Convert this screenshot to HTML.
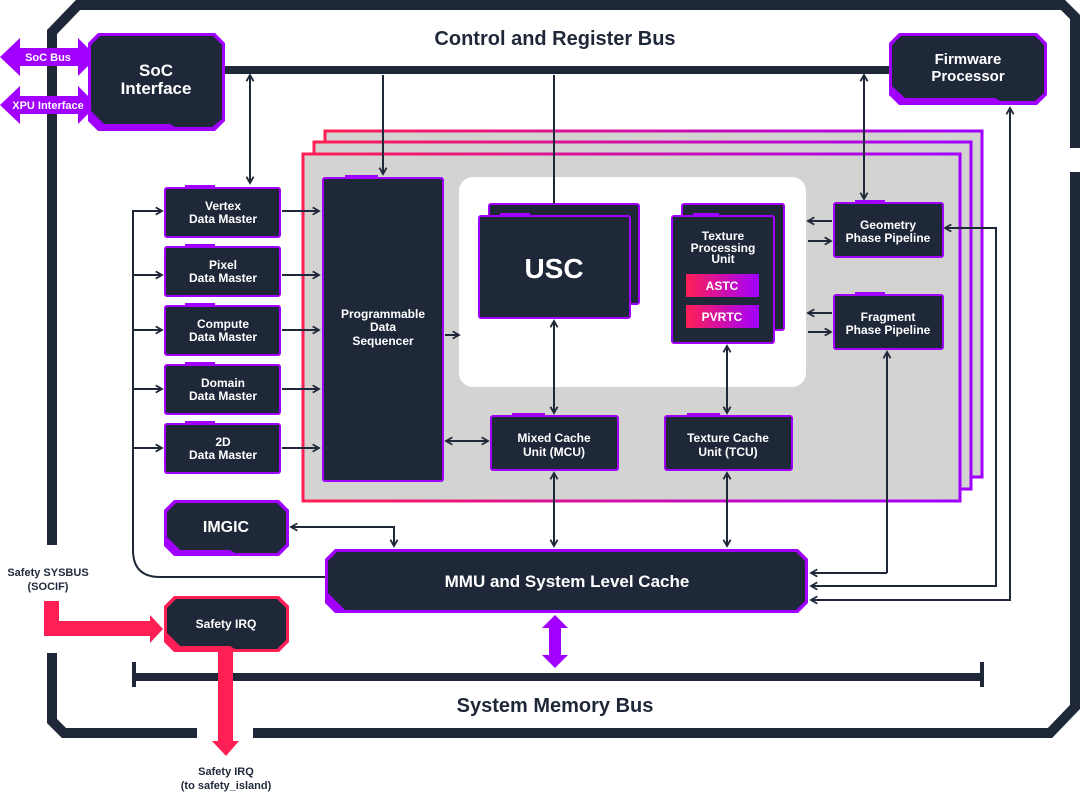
<!DOCTYPE html>
<html><head><meta charset="utf-8"><style>
html,body{margin:0;padding:0;background:#fff;}
svg{display:block;}
text{font-family:"Liberation Sans",sans-serif;font-weight:bold;fill:#fff;text-anchor:middle;}
text.dk{fill:#1f2839;}
.d{fill:#1f2839;}
</style></head><body>
<svg width="1080" height="793" viewBox="0 0 1080 793" xmlns="http://www.w3.org/2000/svg">
<defs>
<linearGradient id="rp" x1="0" y1="0" x2="1" y2="0"><stop offset="0" stop-color="#ff1f55"/><stop offset="1" stop-color="#a100ff"/></linearGradient>
<marker id="ah" viewBox="0 0 10 10" refX="8" refY="5" markerWidth="9" markerHeight="9" orient="auto-start-reverse" markerUnits="userSpaceOnUse"><path d="M1,1 L8,5 L1,9" fill="none" stroke="#1f2839" stroke-width="2"/></marker>
</defs>

<g fill="none" stroke="#1f2839" stroke-width="10">
<path d="M52,545 L52,32 L78,5 L1063,5 L1075,17 L1075,148"/>
<path d="M1075,172 L1075,707 L1050,733 L253,733"/>
<path d="M197,733 L64,733 L52,721 L52,653"/>
</g>

<rect x="220" y="66" width="672" height="8" fill="#1f2839"/>
<text x="555" y="45" font-size="20" class="dk">Control and Register Bus</text>

<rect x="325" y="131" width="657" height="346" fill="#d3d4d2" stroke="url(#rp)" stroke-width="3"/>
<rect x="314" y="142" width="657" height="347" fill="#d3d4d2" stroke="url(#rp)" stroke-width="3"/>
<rect x="303" y="154" width="657" height="347" fill="#d3d4d2" stroke="url(#rp)" stroke-width="3"/>
<rect x="459" y="177" width="347" height="210" rx="14" fill="#fff"/>

<polygon points="0,57 20,38 20,48 78,48 78,38 97,57 78,76 78,66 20,66 20,76" fill="#a100ff"/>
<text x="48" y="61" font-size="11">SoC Bus</text>
<polygon points="0,105 20,86 20,96 78,96 78,86 97,105 78,124 78,114 20,114 20,124" fill="#a100ff"/>
<text x="48" y="109" font-size="11">XPU Interface</text>

<polygon points="98,33 215,33 225,43 225,121 215,131 98,131 88,121 88,43" fill="#a100ff"/>
<polygon points="100,36 213,36 222,45 222,119 212,127 175,127 170,124 104,124 91,111 91,45" class="d"/>
<text x="156" y="76" font-size="17">SoC</text>
<text x="156" y="94" font-size="17">Interface</text>

<polygon points="899,33 1037,33 1047,43 1047,95 1037,105 899,105 889,95 889,43" fill="#a100ff"/>
<polygon points="901,36 1035,36 1044,45 1044,93 1035,101 1000,101 995,98 905,98 892,86 892,45" class="d"/>
<text x="968" y="64" font-size="15">Firmware</text>
<text x="968" y="81" font-size="15">Processor</text>

<g stroke="#a100ff" stroke-width="2">
<rect x="165" y="188" width="115" height="49" rx="2" class="d"/>
<rect x="165" y="247" width="115" height="49" rx="2" class="d"/>
<rect x="165" y="306" width="115" height="49" rx="2" class="d"/>
<rect x="165" y="365" width="115" height="49" rx="2" class="d"/>
<rect x="165" y="424" width="115" height="49" rx="2" class="d"/>
<rect x="323" y="178" width="120" height="303" rx="2" class="d"/>
<rect x="489" y="204" width="150" height="100" rx="2" class="d"/>
<rect x="479" y="216" width="151" height="102" rx="2" class="d"/>
<rect x="682" y="204" width="102" height="126" rx="2" class="d"/>
<rect x="672" y="216" width="102" height="127" rx="2" class="d"/>
<rect x="491" y="416" width="127" height="54" rx="2" class="d"/>
<rect x="665" y="416" width="127" height="54" rx="2" class="d"/>
<rect x="834" y="203" width="109" height="54" rx="2" class="d"/>
<rect x="834" y="295" width="109" height="54" rx="2" class="d"/>
</g>
<g fill="#a100ff">
<rect x="185" y="185" width="30" height="4"/><rect x="185" y="244" width="30" height="4"/><rect x="185" y="303" width="30" height="4"/><rect x="185" y="362" width="30" height="4"/><rect x="185" y="421" width="30" height="4"/>
<rect x="345" y="175" width="33" height="4"/><rect x="500" y="213" width="30" height="4"/><rect x="693" y="213" width="26" height="4"/>
<rect x="512" y="413" width="33" height="4"/><rect x="687" y="413" width="33" height="4"/><rect x="855" y="200" width="30" height="4"/><rect x="855" y="292" width="30" height="4"/>
</g>
<g font-size="12">
<text x="223" y="210">Vertex</text><text x="223" y="223">Data Master</text>
<text x="223" y="269">Pixel</text><text x="223" y="282">Data Master</text>
<text x="223" y="328">Compute</text><text x="223" y="341">Data Master</text>
<text x="223" y="387">Domain</text><text x="223" y="400">Data Master</text>
<text x="223" y="446">2D</text><text x="223" y="459">Data Master</text>
<text x="383" y="318">Programmable</text><text x="383" y="331">Data</text><text x="383" y="345">Sequencer</text>
<text x="554" y="442">Mixed Cache</text><text x="554" y="456">Unit (MCU)</text>
<text x="728" y="442">Texture Cache</text><text x="728" y="456">Unit (TCU)</text>
<text x="888" y="229">Geometry</text><text x="888" y="242">Phase Pipeline</text>
<text x="888" y="321">Fragment</text><text x="888" y="334">Phase Pipeline</text>
<text x="723" y="240">Texture</text><text x="723" y="252">Processing</text><text x="723" y="263">Unit</text>
</g>
<text x="554" y="278" font-size="28">USC</text>
<rect x="686" y="274" width="73" height="23" fill="url(#rp)"/>
<rect x="686" y="305" width="73" height="23" fill="url(#rp)"/>
<text x="722" y="290" font-size="12">ASTC</text>
<text x="722" y="321" font-size="12">PVRTC</text>

<polygon points="174,500 279,500 289,510 289,546 279,556 174,556 164,546 164,510" fill="#a100ff"/>
<polygon points="176,503 277,503 286,512 286,544 277,553 235,553 230,550 180,550 167,537 167,512" class="d"/>
<text x="226" y="532" font-size="16">IMGIC</text>

<polygon points="174,596 279,596 289,606 289,642 279,652 174,652 164,642 164,606" fill="#ff1f55"/>
<polygon points="176,599 277,599 286,608 286,640 277,649 235,649 230,646 180,646 167,633 167,608" class="d"/>
<text x="226" y="628" font-size="12">Safety IRQ</text>

<polygon points="335,549 798,549 808,559 808,603 798,613 335,613 325,603 325,559" fill="#a100ff"/>
<polygon points="337,552 796,552 805,561 805,601 796,610 345,610 328,593 328,561" class="d"/>
<text x="567" y="587" font-size="17">MMU and System Level Cache</text>

<polygon points="555,615 568,628 561,628 561,655 568,655 555,668 542,655 549,655 549,628 542,628" fill="#a100ff"/>

<rect x="133" y="673" width="850" height="8" fill="#1f2839"/>
<rect x="132" y="662" width="4" height="25" fill="#1f2839"/>
<rect x="980" y="662" width="4" height="25" fill="#1f2839"/>
<text x="555" y="712" font-size="20" class="dk">System Memory Bus</text>

<polygon points="44,601 59,601 59,621 150,621 150,615 163,629 150,643 150,636 44,636" fill="#ff1f55"/>
<polygon points="218,652 233,652 233,741 239,741 226,756 212,741 218,741" fill="#ff1f55"/>
<text x="48" y="576" font-size="11" class="dk">Safety SYSBUS</text>
<text x="48" y="590" font-size="11" class="dk">(SOCIF)</text>
<text x="226" y="775" font-size="11" class="dk">Safety IRQ</text>
<text x="226" y="789" font-size="11" class="dk">(to safety_island)</text>

<g fill="none" stroke="#1f2839" stroke-width="2">
<path d="M250,75 L250,183" marker-start="url(#ah)" marker-end="url(#ah)"/>
<path d="M383,75 L383,174" marker-end="url(#ah)"/>
<path d="M554,75 L554,204"/>
<path d="M864,75 L864,199" marker-start="url(#ah)" marker-end="url(#ah)"/>
<path d="M160,577 Q133,577 133,550 L133,210"/>
<path d="M160,577 L325,577"/>
<path d="M133,211 L162,211" marker-end="url(#ah)"/>
<path d="M133,275 L162,275" marker-end="url(#ah)"/>
<path d="M133,330 L162,330" marker-end="url(#ah)"/>
<path d="M133,389 L162,389" marker-end="url(#ah)"/>
<path d="M133,448 L162,448" marker-end="url(#ah)"/>
<path d="M282,211 L319,211" marker-end="url(#ah)"/>
<path d="M282,275 L319,275" marker-end="url(#ah)"/>
<path d="M282,330 L319,330" marker-end="url(#ah)"/>
<path d="M282,389 L319,389" marker-end="url(#ah)"/>
<path d="M282,448 L319,448" marker-end="url(#ah)"/>
<path d="M445,335 L459,335" marker-end="url(#ah)"/>
<path d="M446,441 L488,441" marker-start="url(#ah)" marker-end="url(#ah)"/>
<path d="M554,321 L554,413" marker-start="url(#ah)" marker-end="url(#ah)"/>
<path d="M727,346 L727,413" marker-start="url(#ah)" marker-end="url(#ah)"/>
<path d="M554,473 L554,546" marker-start="url(#ah)" marker-end="url(#ah)"/>
<path d="M727,473 L727,546" marker-start="url(#ah)" marker-end="url(#ah)"/>
<path d="M832,221 L808,221" marker-end="url(#ah)"/>
<path d="M808,241 L831,241" marker-end="url(#ah)"/>
<path d="M832,313 L808,313" marker-end="url(#ah)"/>
<path d="M808,332 L831,332" marker-end="url(#ah)"/>
<path d="M291,527 L394,527 L394,546" marker-start="url(#ah)" marker-end="url(#ah)"/>
<path d="M887,573 L887,352" marker-end="url(#ah)"/>
<path d="M887,573 L811,573" marker-end="url(#ah)"/>
<path d="M945,228 L996,228 L996,586 L811,586" marker-start="url(#ah)" marker-end="url(#ah)"/>
<path d="M1010,108 L1010,600 L811,600" marker-start="url(#ah)" marker-end="url(#ah)"/>
</g>
</svg>
</body></html>
